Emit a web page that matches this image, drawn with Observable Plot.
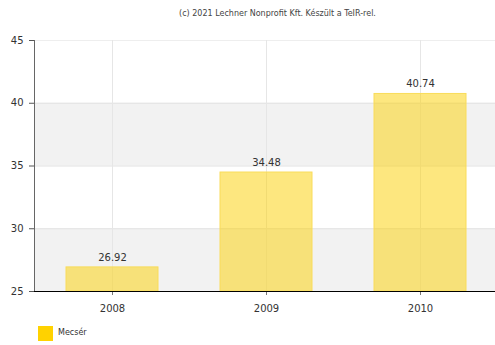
<!DOCTYPE html>
<html>
<head>
<meta charset="utf-8">
<script src="https://cdn.jsdelivr.net/npm/d3@7"></script>
<script src="https://cdn.jsdelivr.net/npm/@observablehq/plot@0.6"></script>
<style>
  body { margin: 0; background: #fff; font-family: "DejaVu Sans", Verdana, sans-serif; }
  #title { height: 28px; line-height: 28px; font-size: 8px; color: #444; text-align: center; padding-left: 60px; box-sizing: border-box; }
  #legend { position: relative; height: 26px; font-size: 8px; color: #333; }
  #legend .sw { position: absolute; left: 38px; top: 7px; width: 15px; height: 15px; background: #ffd200; }
  #legend .lb { position: absolute; left: 58px; top: 9px; }
  svg { display: block; }
</style>
</head>
<body>
<div id="title">(c) 2021 Lechner Nonprofit Kft. Készült a TeIR-rel.</div>
<div id="chart"></div>
<div id="legend"><div class="sw"></div><div class="lb">Mecsér</div></div>
<script>
const years = ["2008", "2009", "2010"];
const values = [26.92, 34.48, 40.74];
const seriesName = "Mecsér";
const yTicks = [25, 30, 35, 40, 45];
const bands = [[35, 40], [25, 30]];

const data = years.map((y, i) => ({year: y, value: values[i]}));
const bandData = bands.map(([a, b]) => ({y1: a, y2: b}));

const chart = Plot.plot({
  width: 495,
  height: 291,
  marginTop: 12,
  marginBottom: 28,
  marginLeft: 34,
  marginRight: -3,
  style: {fontFamily: "DejaVu Sans, Verdana, sans-serif", fontSize: "10px", color: "#333", background: "#fff"},
  x: {domain: years, paddingInner: 0.4, paddingOuter: 0.2, label: null},
  y: {domain: [25, 45], label: null},
  marks: [
    Plot.rectY(bandData, {y1: "y1", y2: "y2", fill: "#f2f2f2"}),
    Plot.ruleY(yTicks.slice(1, -1), {stroke: "#e2e2e2"}),
    Plot.ruleY([45], {stroke: "#eeeeee"}),
    Plot.ruleX(years, {x: d => d, stroke: "#e6e6e6"}),
    Plot.barY(data, {x: "year", y1: 25, y2: "value", fill: "#fcd000", fillOpacity: 0.5, stroke: "#f9dc5a", strokeWidth: 1}),
    Plot.text(data, {x: "year", y: "value", text: d => d.value.toFixed(2), dy: -10, fill: "#333", fontSize: 10}),
    Plot.axisY(yTicks, {tickSize: 5, tickPadding: 6, stroke: "#555", fill: "#333", fontSize: 10}),
    Plot.axisX({tickSize: 4, tickPadding: 9, stroke: "#777", fill: "#333", fontSize: 10}),
    Plot.ruleY([25], {stroke: "#000"})
  ]
});
document.getElementById("chart").appendChild(chart);
// y axis line
d3.select(chart).append("line")
  .attr("x1", 34.5).attr("x2", 34.5).attr("y1", 12).attr("y2", 263)
  .attr("stroke", "#666");
</script>
</body>
</html>
